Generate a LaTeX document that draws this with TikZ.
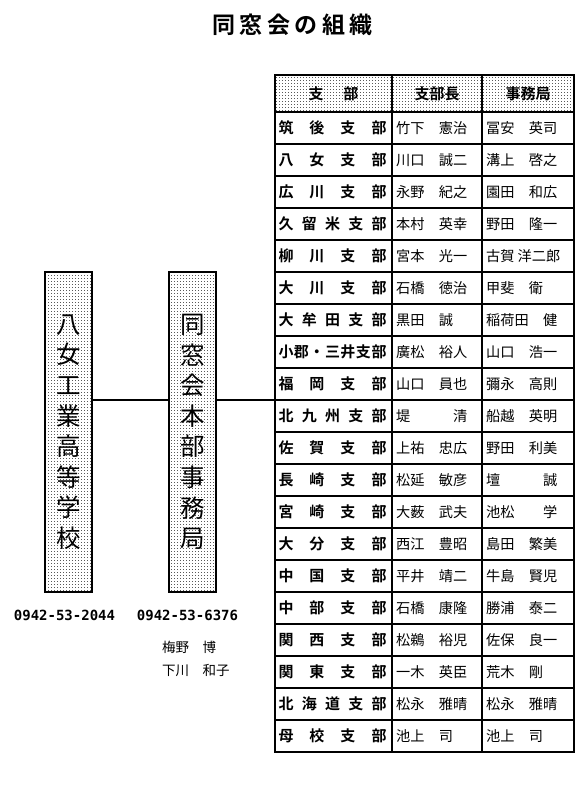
\documentclass[tikz,border=0pt]{standalone}
\usepackage{fontspec}
\setmainfont{Noto Sans CJK JP}[BoldFont={Noto Sans CJK JP Bold}]
\newfontfamily\monof{DejaVu Sans Mono}
\usetikzlibrary{patterns}
\pgfdeclarepatternformonly{sdots}{\pgfqpoint{-0.5pt}{-0.5pt}}{\pgfqpoint{0.5pt}{0.5pt}}{\pgfqpoint{3pt}{3pt}}{\pgfpathrectangle{\pgfqpoint{-0.45pt}{-0.45pt}}{\pgfqpoint{0.9pt}{0.9pt}}\pgfusepath{fill}}
\newcommand\brname[1]{\makebox[108pt][s]{#1}}
\tikzset{
  tbl/.style={line width=2.3pt},
  conn/.style={line width=2pt},
  vbox/.style={draw, line width=2pt, pattern=sdots, minimum width=47pt, minimum height=320pt, inner sep=0pt,
    align=center, font=\fontsize{24.5pt}{30.6pt}\selectfont},
  brn/.style={inner sep=0pt, font=\fontsize{15pt}{15pt}\selectfont\bfseries},
  nm/.style={inner sep=0pt, anchor=west, font=\fontsize{14.2pt}{15pt}\selectfont},
  hd/.style={inner sep=0pt, font=\fontsize{15pt}{15pt}\selectfont\bfseries},
  phone/.style={inner sep=0pt, font=\fontsize{14pt}{15pt}\selectfont\monof\bfseries},
}
\begin{document}
\begin{tikzpicture}[x=1pt,y=-1pt]
\useasboundingbox (0,0) rectangle (583,803);
% title
\node[inner sep=0pt, font=\fontsize{23pt}{24pt}\selectfont\bfseries] (title) at (292.5,25)
  {同\hspace{4.5pt}窓\hspace{4.5pt}会\hspace{4.5pt}の\hspace{4.5pt}組\hspace{4.5pt}織};
% header fill
\fill[pattern=sdots] (275,75) rectangle (574,112);
% table grid
\draw[tbl] (275,75) rectangle (574,752);
\draw[tbl] (392,75) -- (392,752);
\draw[tbl] (482,75) -- (482,752);
\foreach \k in {0,...,19} { \draw[tbl] (275,112+32*\k) -- (574,112+32*\k); }
% header
\node[hd] (h1) at (333.5,93.5) {支\hspace{20pt}部};
\node[hd] (h2) at (437,93.5) {支部長};
\node[hd] (h3) at (528,93.5) {事務局};
% rows
\foreach \i/\b/\n/\m in {
 0/{筑\hfill 後\hfill 支\hfill 部}/竹下　憲治/冨安　英司,
 1/{八\hfill 女\hfill 支\hfill 部}/川口　誠二/溝上　啓之,
 2/{広\hfill 川\hfill 支\hfill 部}/永野　紀之/園田　和広,
 3/{久\hfill 留\hfill 米\hfill 支\hfill 部}/本村　英幸/野田　隆一,
 4/{柳\hfill 川\hfill 支\hfill 部}/宮本　光一/{古賀\hspace{3pt}洋二郎},
 5/{大\hfill 川\hfill 支\hfill 部}/石橋　徳治/甲斐　衛,
 6/{大\hfill 牟\hfill 田\hfill 支\hfill 部}/黒田　誠/稲荷田　健,
 7/{小\hfill 郡\hfill ・\hfill 三\hfill 井\hfill 支\hfill 部}/廣松　裕人/山口　浩一,
 8/{福\hfill 岡\hfill 支\hfill 部}/山口　員也/彌永　高則,
 9/{北\hfill 九\hfill 州\hfill 支\hfill 部}/堤　　　清/船越　英明,
 10/{佐\hfill 賀\hfill 支\hfill 部}/上祐　忠広/野田　利美,
 11/{長\hfill 崎\hfill 支\hfill 部}/松延　敏彦/壇　　　誠,
 12/{宮\hfill 崎\hfill 支\hfill 部}/大薮　武夫/池松　　学,
 13/{大\hfill 分\hfill 支\hfill 部}/西江　豊昭/島田　繁美,
 14/{中\hfill 国\hfill 支\hfill 部}/平井　靖二/牛島　賢児,
 15/{中\hfill 部\hfill 支\hfill 部}/石橋　康隆/勝浦　泰二,
 16/{関\hfill 西\hfill 支\hfill 部}/松鵜　裕児/佐保　良一,
 17/{関\hfill 東\hfill 支\hfill 部}/一木　英臣/荒木　剛,
 18/{北\hfill 海\hfill 道\hfill 支\hfill 部}/松永　雅晴/松永　雅晴,
 19/{母\hfill 校\hfill 支\hfill 部}/池上　司/池上　司} {
  \node[brn] (b\i) at (332.5,128+32*\i) {\brname{\b}};
  \node[nm] (n\i) at (396,128+32*\i) {\n};
  \node[nm] (m\i) at (486,128+32*\i) {\m};
}
% left boxes
\node[vbox] (school) at (68.5,432) {八\\女\\工\\業\\高\\等\\学\\校};
\node[vbox] (office) at (192.5,432) {同\\窓\\会\\本\\部\\事\\務\\局};
\coordinate (tblin) at (275,400);
\draw[conn] (school.east |- 0,400) -- (office.west |- 0,400);
\draw[conn] (office.east |- 0,400) -- (tblin);
% phones and names
\node[phone] (p1) at (64.5,615) {0942-53-2044};
\node[phone] (p2) at (187.5,615) {0942-53-6376};
\node[nm, font=\fontsize{13.5pt}{14pt}\selectfont] (s1) at (162,647) {梅野　博};
\node[nm, font=\fontsize{13.5pt}{14pt}\selectfont] (s2) at (162,670) {下川　和子};
\end{tikzpicture}
\end{document}
